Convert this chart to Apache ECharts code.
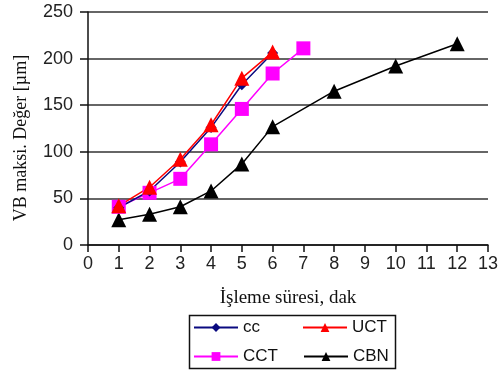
<!DOCTYPE html>
<html>
<head>
<meta charset="utf-8">
<script src="https://cdn.jsdelivr.net/npm/echarts@6/dist/echarts.min.js"></script>
<style>
  html, body { margin: 0; padding: 0; background: #fff; }
  #chart { width: 501px; height: 372px; }
</style>
</head>
<body>
<div id="chart"></div>
<script>
const ccX = [1, 2, 3, 4, 5, 6]
const ccY = [40, 58, 89, 126, 172, 206]
const uctX = [1, 2, 3, 4, 5, 6]
const uctY = [42, 62, 92, 129, 179, 207]
const cctX = [1, 2, 3, 4, 5, 6, 7]
const cctY = [41, 56, 71, 108, 146, 184, 211]
const cbnX = [1, 2, 3, 4, 5, 6, 8, 10, 12]
const cbnY = [27, 33, 41, 58, 87, 127, 165, 192, 216]

const zip = (xs, ys) => xs.map((x, i) => [x, ys[i]])

const chart = echarts.init(document.getElementById('chart'))

const tickFont = { fontFamily: 'Liberation Sans, Arial, sans-serif', fontSize: 18, color: '#222' }
const legendText = { fontFamily: 'Liberation Sans, Arial, sans-serif', fontSize: 17, color: '#111' }
const serif = 'Liberation Serif, Times New Roman, serif'

const mkLegend = (name, left, top) => ({
  data: [name],
  left: left,
  top: top,
  itemWidth: 44,
  itemHeight: 11,
  itemGap: 0,
  padding: 0,
  textStyle: legendText,
  selectedMode: false
})

chart.setOption({
  animation: false,
  backgroundColor: '#fff',
  grid: { left: 88, right: 9, top: 12, bottom: 127 },
  xAxis: {
    type: 'value',
    min: 0,
    max: 13,
    interval: 1,
    name: 'İşleme süresi, dak',
    nameLocation: 'middle',
    nameGap: 44,
    nameTextStyle: { fontFamily: serif, fontSize: 19, color: '#111' },
    axisLine: { lineStyle: { color: '#111', width: 1.5 } },
    axisTick: { length: 7, lineStyle: { color: '#111', width: 1.5 } },
    axisLabel: Object.assign({ margin: 10 }, tickFont),
    splitLine: { show: false }
  },
  yAxis: {
    type: 'value',
    min: 0,
    max: 250,
    interval: 50,
    axisLine: { show: true, lineStyle: { color: '#111', width: 1.5 } },
    axisTick: { show: true, length: 8, lineStyle: { color: '#111', width: 1.5 } },
    axisLabel: Object.assign({ margin: 15 }, tickFont),
    splitLine: { lineStyle: { color: '#333', width: 1.5 } }
  },
  legend: [
    mkLegend('cc', 193, 319),
    mkLegend('UCT', 302, 319),
    mkLegend('CCT', 193, 348),
    mkLegend('CBN', 303, 348)
  ],
  graphic: [
    {
      type: 'rect',
      left: 187,
      top: 313,
      shape: { width: 206, height: 53 },
      style: { fill: 'none', stroke: '#111', lineWidth: 1.5 }
    },
    {
      type: 'text',
      x: 21,
      y: 138,
      rotation: Math.PI / 2,
      style: {
        text: 'VB maksi. Değer [µm]',
        font: '18px ' + serif,
        fill: '#111',
        align: 'center',
        verticalAlign: 'middle'
      }
    }
  ],
  series: [
    {
      name: 'CBN', type: 'line', data: zip(cbnX, cbnY),
      symbol: 'triangle', symbolSize: 15,
      itemStyle: { color: '#000' }, lineStyle: { color: '#000', width: 1.5 }
    },
    {
      name: 'CCT', type: 'line', data: zip(cctX, cctY),
      symbol: 'rect', symbolSize: 14,
      itemStyle: { color: '#ff00ff' }, lineStyle: { color: '#ff00ff', width: 1.5 }
    },
    {
      name: 'cc', type: 'line', data: zip(ccX, ccY),
      symbol: 'diamond', symbolSize: 11,
      itemStyle: { color: '#0a0a80' }, lineStyle: { color: '#0a0a80', width: 1.5 }
    },
    {
      name: 'UCT', type: 'line', data: zip(uctX, uctY),
      symbol: 'triangle', symbolSize: 15,
      itemStyle: { color: '#ff0000' }, lineStyle: { color: '#ff0000', width: 1.5 }
    }
  ]
})
</script>
</body>
</html>
